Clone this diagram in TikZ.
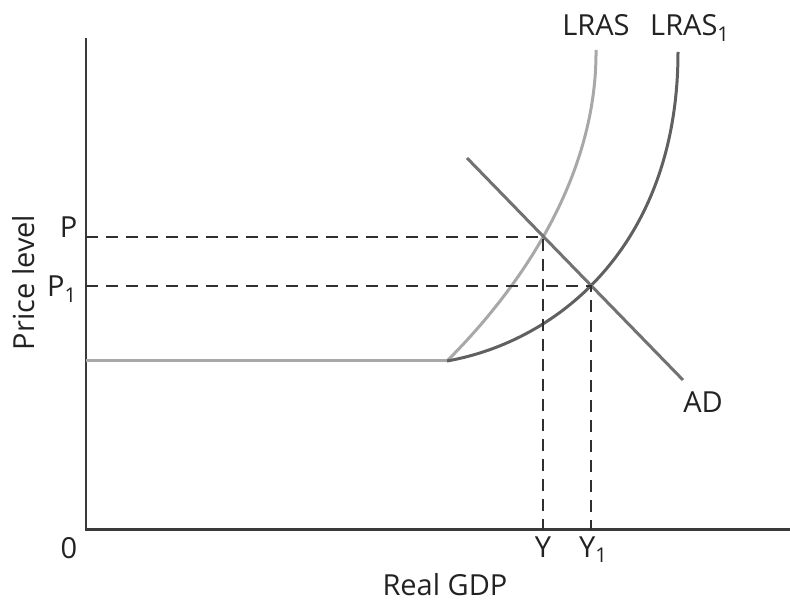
\documentclass[tikz,border=0pt]{standalone}
\usepackage{fontspec}
\setmainfont{Open Sans}
\usetikzlibrary{intersections}
\definecolor{axisgray}{HTML}{3A3A3A}
\definecolor{lightcurve}{HTML}{A8A8A8}
\definecolor{darkcurve}{HTML}{606060}
\definecolor{adgray}{HTML}{727272}
\definecolor{guidegray}{HTML}{303030}
\definecolor{textgray}{HTML}{222222}

\begin{document}
\begin{tikzpicture}[x=1pt, y=1pt,
  axis/.style={line width=2.5pt, axisgray},
  curve/.style={line width=3pt},
  guide/.style={line width=2pt, guidegray, dash pattern=on 12pt off 8pt},
  lbl/.style={inner sep=0pt, text=textgray, font=\fontsize{29}{34}\selectfont}]
  \useasboundingbox (0,0) rectangle (790,603);

  % Axes
  \coordinate (O) at (86,73.5); % origin
  \coordinate (Ytop) at (86,565);
  \coordinate (Xend) at (790,73.5);
  \draw[axis] (Ytop) -- (O) -- (Xend);

  % Flat part of the supply curve, ends at the kink K
  \coordinate (K) at (447,242);
  \draw[curve, lightcurve] (O |- K) -- (K);

  % LRAS and LRAS_1
  \coordinate (T) at (596,553);  % top of LRAS
  \coordinate (T1) at (678,551); % top of LRAS_1
  \draw[curve, lightcurve, name path=lras]
    (K) .. controls (525,320) and (597,430) .. (T);
  \draw[curve, darkcurve, name path=lrasone]
    (K) .. controls (560,262) and (678,360) .. (T1);

  % Aggregate demand
  \coordinate (A) at (467,445);
  \coordinate (B) at (683,223);
  \draw[curve, adgray, name path=ad] (A) -- (B);

  % Equilibria
  \path[name intersections={of=lras and ad, by=E}];
  \path[name intersections={of=lrasone and ad, by=E1}];
  \draw[guide] (O |- E) -- (E) -- (E |- O);
  \draw[guide] (O |- E1) -- (E1) -- (E1 |- O);

  % Labels
  \node[lbl, anchor=base] (lLRAS) at (596,567) {LRAS};
  \node[lbl, anchor=base west] (lLRASone) at (650,567) {LRAS\textsubscript{1}};
  \node[lbl, anchor=base] (lAD) at (703,190) {AD};
  \node[lbl, anchor=base] (lP) at (68.5,365) {P};
  \node[lbl, anchor=base east] (lPone) at (77,306) {P\textsubscript{1}};
  \node[lbl, anchor=base] (lO) at (69,45) {0};
  \node[lbl, anchor=base] (lY) at (543,46) {Y};
  \node[lbl, anchor=base west] (lYone) at (579,46) {Y\textsubscript{1}};
  \node[lbl, anchor=base] (lx) at (445,8) {Real GDP};
  \node[lbl, anchor=base, rotate=90] (ly) at (35,320.5) {Price level};
\end{tikzpicture}
\end{document}
